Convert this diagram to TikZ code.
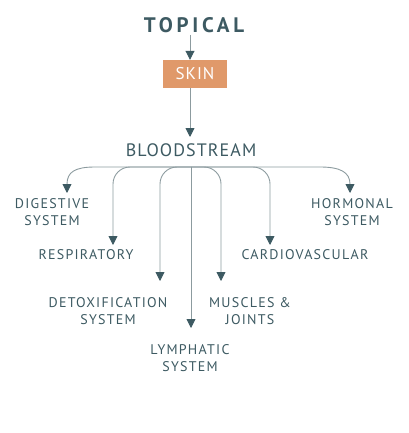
\documentclass[tikz,border=0pt]{standalone}
\usepackage{fontspec}
\setmainfont{PT Sans}
\newfontfamily\lbl[LetterSpace=9]{PT Sans}
\newfontfamily\lblbl[LetterSpace=6]{PT Sans}
\newfontfamily\lblb[LetterSpace=18]{PT Sans Bold}
\usetikzlibrary{arrows.meta}
\definecolor{slate}{HTML}{3D5A62}
\definecolor{linegray}{HTML}{8C9B9F}
\definecolor{skinorange}{HTML}{E0996A}
\tikzset{
  lab/.style={text=slate, align=center, font=\lbl\fontsize{14}{17}\selectfont, inner sep=0pt},
  conn/.style={draw=linegray, line width=0.9pt, -{Triangle[width=9,length=9,color=slate]}},
}
\begin{document}
\begin{tikzpicture}[x=1pt,y=-1pt]
\useasboundingbox (0,0) rectangle (408,433);
\node[text=slate, font=\lblb\fontsize{21}{21}\selectfont, inner sep=0pt] (topical) at (194,25) {TOPICAL};
\node[fill=skinorange, text=white, minimum width=64, minimum height=28, inner sep=0pt, font=\lblbl\fontsize{17}{17}\selectfont] (skin) at (195,74) {SKIN};
\node[text=slate, font=\lblbl\fontsize{18}{18}\selectfont, inner sep=0pt] (blood) at (191,150) {BLOODSTREAM};

\node[lab] (dig) at (52,212) {DIGESTIVE\\SYSTEM};
\node[lab] (resp) at (86,255) {RESPIRATORY};
\node[lab] (detox) at (108,311.5) {DETOXIFICATION\\SYSTEM};
\node[lab] (lymph) at (190,358.5) {LYMPHATIC\\SYSTEM};
\node[lab] (musc) at (250,311.5) {MUSCLES \&\\JOINTS};
\node[lab] (cardio) at (305,255) {CARDIOVASCULAR};
\node[lab] (horm) at (352,212) {HORMONAL\\SYSTEM};

\coordinate (hub) at (191,167);
\coordinate (tdig) at (67,193);
\coordinate (tresp) at (113,245);
\coordinate (tdetox) at (160,281);
\coordinate (tlymph) at (191,328);
\coordinate (tmusc) at (221,281);
\coordinate (tcardio) at (270,245);
\coordinate (thorm) at (350,193);

\draw[conn] (190,35) -- (skin.north -| 190,0);
\draw[conn] (skin.south -| 190,0) -- (190,137);

\draw[conn] (hub) -- (95,167) .. controls (75,167) and (67,172) .. (tdig);
\draw[conn, rounded corners=17] (hub) -| (tresp);
\draw[conn, rounded corners=17] (hub) -| (tdetox);
\draw[conn] (hub) -- (tlymph);
\draw[conn, rounded corners=17] (hub) -| (tmusc);
\draw[conn, rounded corners=17] (hub) -| (tcardio);
\draw[conn] (hub) -- (320,167) .. controls (340,167) and (350,172) .. (thorm);
\end{tikzpicture}
\end{document}
